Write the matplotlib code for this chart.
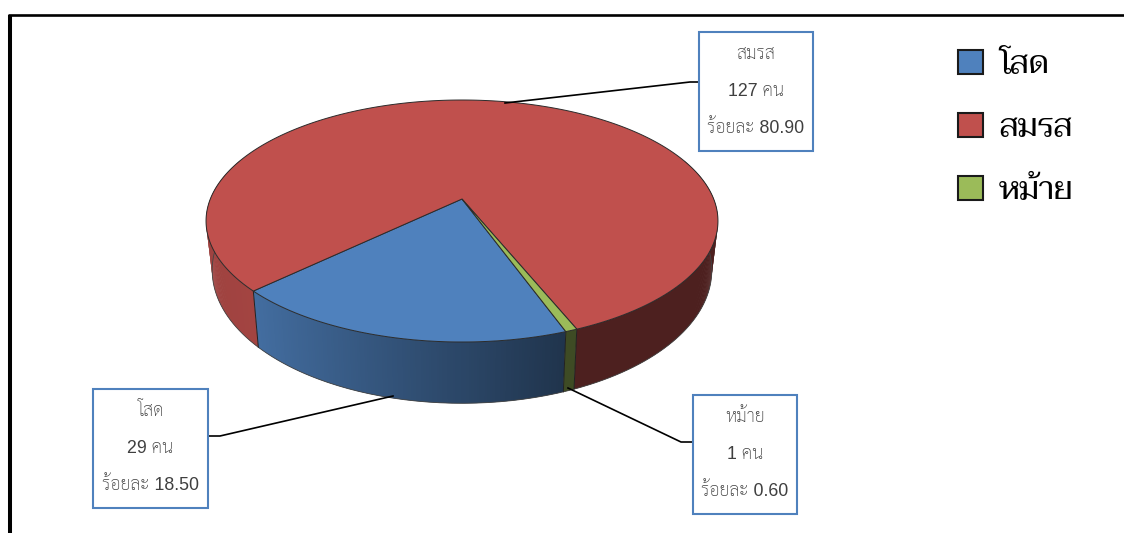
import numpy as np
import matplotlib
matplotlib.use("Agg")
import matplotlib.pyplot as plt
from matplotlib import font_manager as fm
from matplotlib.collections import PolyCollection
from matplotlib.patches import Patch, Polygon, Rectangle

categories = ["โสด", "สมรส", "หม้าย"]
counts = [29, 127, 1]
percents = [18.50, 80.90, 0.60]
colors = ["#4f81bd", "#c0504d", "#9bbb59"]

# pick whatever thai font is around
installed = {f.name for f in fm.fontManager.ttflist}
label_thai = next((n for n in ["Sarabun", "Noto Sans Thai", "Thasadith", "Taviraj"] if n in installed), "DejaVu Sans")
legend_thai = next((n for n in ["Taviraj", "Trirong", "Sarabun"] if n in installed), "DejaVu Sans")
label_font = ["Liberation Sans", label_thai]

# pie geometry, in image pixels
cx, cy = 462, 199
rx, ry = 251.7, 117.0
persp = 0.1818  # apex sits above the middle of the ellipse
start_angle = 70.0
low_x, low_y, low_off = 0.976, 1.1, 47.0


def top_xy(theta):
    c, u = np.cos(theta), np.sin(theta)
    w = 1 - persp * u
    return cx + rx * c / w, cy + ry * u / w


def low_xy(theta):
    c, u = np.cos(theta), np.sin(theta)
    w = 1 - persp * u
    return cx + low_x * rx * c / w, cy + low_off + low_y * ry * u / w


def shade(color, theta):
    # left side of the rim is lit, right side falls off dark
    f = np.interp(np.cos(theta), [-1, -0.72, 0.35, 1], [0.82, 0.85, 0.40, 0.40])
    return np.array(matplotlib.colors.to_rgb(color)) * f


fig = plt.figure(figsize=(11.24, 5.33), dpi=100)
ax = fig.add_axes([0, 0, 1, 1])
ax.set_xlim(0, 1124)
ax.set_ylim(533, 0)
ax.axis("off")

# outer frame
ax.plot([10, 10], [533, 15.2], color="black", lw=2.9, solid_capstyle="butt", zorder=1)
ax.plot([8, 1124], [15.2, 15.2], color="black", lw=1.9, solid_capstyle="butt", zorder=1)

shares = np.array(counts) / sum(counts)
edges = np.radians(start_angle + np.concatenate([[0], np.cumsum(shares) * 360]))

# rim, one collection per slice, each quad runs over the next so no seams show
for i, color in enumerate(colors):
    n = max(2, int(np.degrees(edges[i + 1] - edges[i]) / 0.5))
    th = np.linspace(edges[i], edges[i + 1], n + 1)
    quads, quad_colors, depth = [], [], []
    for k in range(n):
        a, b = th[k], th[min(k + 2, n)]
        if np.sin(a) < -0.35:
            continue
        xa, ya = top_xy(a)
        xb, yb = top_xy(b)
        xc, yc = low_xy(b)
        xd, yd = low_xy(a)
        quads.append([(xa, ya), (xb, yb), (xc, yc), (xd, yd)])
        quad_colors.append(shade(color, (th[k] + th[k + 1]) / 2))
        depth.append(np.sin(a))
    order = np.argsort(depth)
    ax.add_collection(PolyCollection([quads[j] for j in order],
                                     facecolors=[quad_colors[j] for j in order],
                                     edgecolors="none", linewidths=0, zorder=2))

# rim outline and slice seams
th = np.radians(np.linspace(-25, 205, 300))
ax.plot(*low_xy(th), color="#444444", lw=0.6, zorder=3)
for e in edges[:-1]:
    if np.sin(e) > 0:
        xa, ya = top_xy(e)
        xb, yb = low_xy(e)
        ax.plot([xa, xb], [ya, yb], color="#222222", lw=0.7, zorder=3)

# top faces
for i, color in enumerate(colors):
    th = np.linspace(edges[i], edges[i + 1], 400)
    xs, ys = top_xy(th)
    pts = np.column_stack([np.r_[cx, xs], np.r_[cy, ys]])
    ax.add_patch(Polygon(pts, closed=True, facecolor=color, edgecolor="#2b2b2b", lw=0.7, zorder=4))

# callouts: box left, top, right, bottom then the leader line
boxes = [(93, 389, 208, 508), (699, 32, 813, 151), (693, 395, 797, 514)]
leaders = [[(208, 436), (220, 436), (393, 396)],
           [(699, 82), (690, 82), (505, 103)],
           [(693, 442), (681, 442), (568, 388)]]
for i, name in enumerate(categories):
    x0, y0, x1, y1 = boxes[i]
    ax.plot(*zip(*leaders[i]), color="black", lw=1.2, zorder=5)
    ax.add_patch(Rectangle((x0, y0), x1 - x0, y1 - y0, facecolor="white", edgecolor="#4f81bd", lw=1.5, zorder=6))
    lines = [name, f"{counts[i]} คน", f"ร้อยละ {percents[i]:.2f}"]
    for j, line in enumerate(lines):
        ax.text((x0 + x1) / 2, y0 + 22.5 + 37 * j, line, ha="center", va="center", fontsize=12.8,
                family=label_font, weight="light", color="#3f3f3f", zorder=7)

handles = [Patch(facecolor=c, edgecolor="#1a1a1a", lw=1.5) for c in colors]
ax.legend(handles, categories, loc="upper left", bbox_to_anchor=(958 / 1124, 1 - 50 / 533),
          frameon=False, prop={"family": legend_thai, "size": 23},
          handlelength=0.78, handleheight=0.78, handletextpad=0.5, labelspacing=1.02,
          borderpad=0, borderaxespad=0)

fig.savefig("out.png", dpi=100)
